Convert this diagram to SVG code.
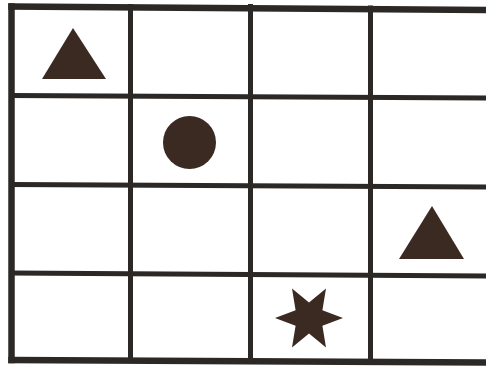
<svg xmlns="http://www.w3.org/2000/svg" width="486" height="367" viewBox="0 0 486 367">
<style>
.bg{fill:#ffffff}
.outer{stroke:#2b2825;stroke-width:6.5;fill:none;stroke-linecap:square}
.inner{stroke:#2b2825;stroke-width:5;fill:none;stroke-linecap:square}
.shape{fill:#3b2a22}
</style>
<rect class="bg" x="0" y="0" width="486" height="367"/>
<g id="grid">
<line class="outer" x1="11.5" y1="6.5" x2="486" y2="10"/>
<line class="outer" x1="11.5" y1="360" x2="486" y2="362.5"/>
<line class="outer" x1="11.5" y1="6.5" x2="11.5" y2="360"/>
<line class="inner" x1="11.5" y1="95.5" x2="486" y2="98"/>
<line class="inner" x1="11.5" y1="184.5" x2="486" y2="187"/>
<line class="inner" x1="11.5" y1="273" x2="486" y2="276"/>
<line class="inner" x1="130.5" y1="6.5" x2="130.5" y2="360"/>
<line class="inner" x1="250.5" y1="6.5" x2="250.5" y2="361"/>
<line class="inner" x1="370.5" y1="8" x2="370.5" y2="362"/>
</g>
<g id="triangle-1"><polygon class="shape" points="73,28 42,79 106,79"/></g>
<g id="circle-1"><circle class="shape" cx="189.5" cy="142.5" r="26.5"/></g>
<g id="triangle-2"><polygon class="shape" points="432,206 399,259 464,259"/></g>
<g id="star-1"><polygon class="shape" points="343,318 322.4,325.75 326,347.4 309,333.5 292,347.4 295.6,325.75 275,318 295.6,310.25 292,288.6 309,302.5 326,288.6 322.4,310.25"/></g>
</svg>
